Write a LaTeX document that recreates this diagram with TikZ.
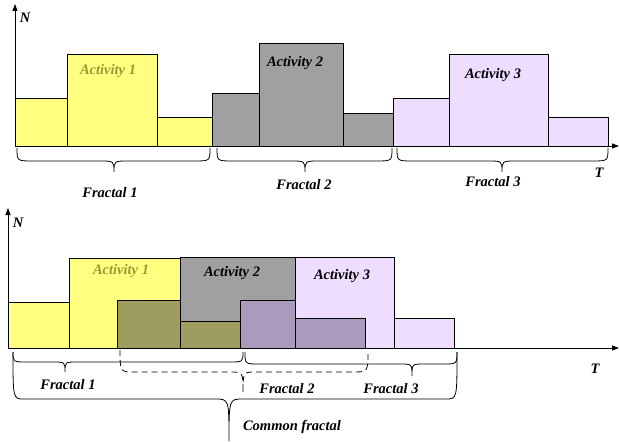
\documentclass[tikz,border=0pt]{standalone}
\usepackage{fontspec}
\setmainfont{Liberation Serif}
\usetikzlibrary{arrows.meta}

\definecolor{actyellow}{HTML}{FFFF80}
\definecolor{actgrey}{HTML}{A0A0A0}
\definecolor{actlilac}{HTML}{EEDDFF}
\definecolor{mixolive}{HTML}{9E9C5E}
\definecolor{mixviolet}{HTML}{AA9BBC}
\definecolor{txtolive}{HTML}{999933}

% brace: [opts] x1, x2, xtip, ytop, ymid, ytip, end radius, tip radius
\newcommand{\fbrace}[9][]{%
  \draw[brc,#1] (#2,#5) .. controls (#2,#6) .. ({#2+#8},#6) -- ({#4-#9},#6)
    .. controls (#4,#6) .. (#4,#7) .. controls (#4,#6) .. ({#4+#9},#6)
    -- ({#3-#8},#6) .. controls (#3,#6) .. (#3,#5);}

\begin{document}
\begin{tikzpicture}[
  x=1pt, y=-1pt,
  font=\fontsize{14.5}{16}\selectfont\bfseries\itshape,
  bar/.style={draw=black, line width=0.8pt},
  axis/.style={line width=0.9pt, -{Triangle[length=7pt,width=5pt]}},
  brc/.style={line width=0.8pt},
  lbl/.style={inner sep=0pt, anchor=center}
]
\useasboundingbox (0,0) rectangle (620,441);

% upper chart
\draw[bar, fill=actyellow] (15,146) rectangle (67,98);
\draw[bar, fill=actyellow] (67,146) rectangle (157,54);
\draw[bar, fill=actyellow] (157,146) rectangle (212,117);
\draw[bar, fill=actgrey] (212,146) rectangle (259,93);
\draw[bar, fill=actgrey] (259,146) rectangle (343,43);
\draw[bar, fill=actgrey] (343,146) rectangle (393,113);
\draw[bar, fill=actlilac] (393,146) rectangle (449,98);
\draw[bar, fill=actlilac] (449,146) rectangle (548,54);
\draw[bar, fill=actlilac] (548,146) rectangle (608,117);
\draw[axis] (15,146) -- (15,4);
\draw[axis] (15,146) -- (619,146);
\node[lbl] (n1) at (25,18) {N};
\node[lbl] (t1) at (599,173) {T};
\node[lbl, text=txtolive] (a1) at (108,71) {Activity 1};
\node[lbl] (a2) at (295,63) {Activity 2};
\node[lbl] (a3) at (493,75) {Activity 3};
\fbrace{17}{210}{114}{148}{161}{172}{16}{14}
\fbrace{217}{392}{305}{148}{161}{172}{16}{14}
\fbrace{397}{608}{502}{148}{161}{172}{16}{14}
\node[lbl] (f1) at (110,193) {Fractal 1};
\node[lbl] (f2) at (304,185) {Fractal 2};
\node[lbl] (f3) at (493,182) {Fractal 3};

% lower chart
\draw[bar, fill=actyellow] (69,348) rectangle (180,258);
\draw[bar, fill=actgrey] (180,348) rectangle (295,257);
\draw[bar, fill=actlilac] (295,348) rectangle (394,257);
\draw[bar, fill=actyellow] (8,348) rectangle (69,302);
\draw[bar, fill=mixolive] (117,348) rectangle (180,300);
\draw[bar, fill=mixolive] (180,348) rectangle (240,321);
\draw[bar, fill=mixviolet] (240,348) rectangle (295,300);
\draw[bar, fill=mixviolet] (295,348) rectangle (365,318);
\draw[bar, fill=actlilac] (394,348) rectangle (454,318);
\draw[axis] (8,348) -- (8,208);
\draw[axis] (8,348) -- (619,348);
\node[lbl] (n2) at (18,223) {N};
\node[lbl] (t2) at (595,369) {T};
\node[lbl, text=txtolive] (b1) at (121,271) {Activity 1};
\node[lbl] (b2) at (232,273) {Activity 2};
\node[lbl] (b3) at (342,276) {Activity 3};
\fbrace{13}{243}{65}{352}{362}{372}{14}{12}
\fbrace[dashed, dash pattern=on 6pt off 4pt]{120}{368}{243}{350}{372}{393}{15}{13}
\fbrace{245}{457}{412}{352}{364}{376}{14}{12}
\fbrace{13}{457}{229}{352}{399}{441}{11}{14}
\node[lbl] (g1) at (68,385) {Fractal 1};
\node[lbl] (g2) at (287,389) {Fractal 2};
\node[lbl] (g3) at (391,389) {Fractal 3};
\node[lbl] (gc) at (292,427) {Common fractal};
\end{tikzpicture}
\end{document}
